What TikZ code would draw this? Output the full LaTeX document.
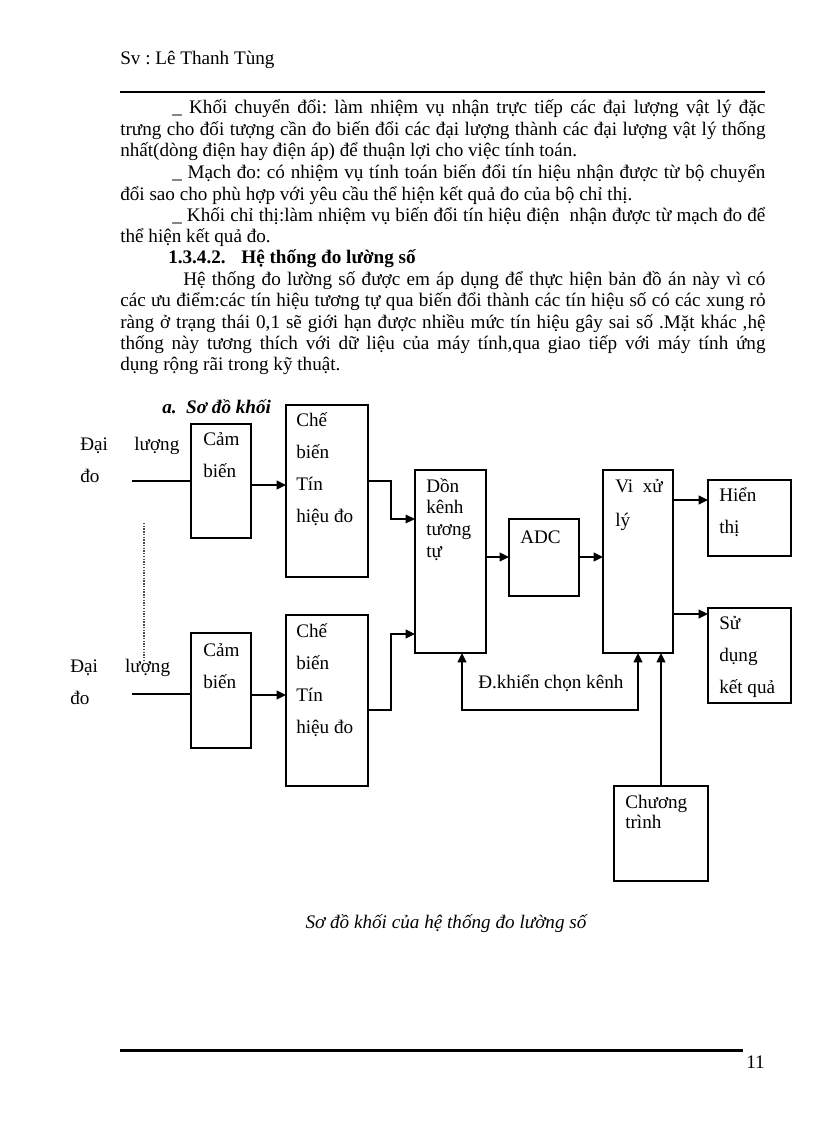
\documentclass[tikz,border=0pt]{standalone}
\usepackage{fontspec}
\setmainfont{Liberation Serif}
\frenchspacing
\usetikzlibrary{
    positioning,
    arrows.meta
}
\newcommand{\px}{0.0257cm}
\newcommand{\jline}[2]{\makebox[#1][s]{#2}}
\newcommand{\khung}[2][23.4pt]{\parbox[t]{3cm}{\baselineskip=#1\relax #2}}
\tikzset{
    >={Triangle[length=2.4mm,width=2.2mm]},
    khoi/.style 2 args={
        draw,
        line width=1.3pt,
        minimum width=#1*\px,
        minimum height=#2*\px,
        inner sep=0pt,
        outer sep=0pt
    },
    chu/.style={
        anchor=base west,
        inner sep=0pt,
        font=\fontsize{14}{15.6}\selectfont
    },
    mui/.style={->, line width=1.4pt},
    manh/.style={line width=0.75pt}
}

\begin{document}
\begin{tikzpicture}[
    x=\px,
    y=-\px
]
    \useasboundingbox (0,0) rectangle (816,1123);

    % Dau trang
    \node[chu] (sv) at (120,64) {Sv : Lê Thanh Tùng};
    \draw[line width=1.8pt] (120,92) -- (765,92);

    % Noi dung
    \node[chu] (t1) at (172,113) {\jline{15.24cm}{\_ Khối chuyển đổi: làm nhiệm vụ nhận trực tiếp các đại lượng vật lý đặc}};
    \node[chu] (t2) at (120,135) {\jline{16.58cm}{trưng cho đối tượng cần đo biến đổi các đại lượng thành các đại lượng vật lý thống}};
    \node[chu] (t3) at (120,156) {nhất(dòng điện hay điện áp) để thuận lợi cho việc tính toán.};
    \node[chu] (t4) at (172,178) {\jline{15.24cm}{\_ Mạch đo: có nhiệm vụ tính toán biến đổi tín hiệu nhận được từ bộ chuyển}};
    \node[chu] (t5) at (120,200) {đổi sao cho phù hợp với yêu cầu thể hiện kết quả đo của bộ chỉ thị.};
    \node[chu] (t6) at (172,221) {\jline{15.24cm}{\_ Khối chỉ thị:làm nhiệm vụ biến đổi tín hiệu điện~ nhận được từ mạch đo để}};
    \node[chu] (t7) at (120,242) {thể hiện kết quả đo.};
    \node[chu, font=\fontsize{14}{15.6}\selectfont\bfseries] (t8) at (168,263) {\makebox[1.88cm][l]{1.3.4.2.}Hệ thống đo lường số};
    \node[chu] (t9) at (183,285) {\jline{14.96cm}{Hệ thống đo lường số được em áp dụng để thực hiện bản đồ án này vì có}};
    \node[chu] (t10) at (120,306) {\jline{16.58cm}{các ưu điểm:các tín hiệu tương tự qua biến đổi thành các tín hiệu số có các xung rỏ}};
    \node[chu] (t11) at (120,328) {\jline{16.58cm}{ràng ở trạng thái 0,1 sẽ giới hạn được nhiều mức tín hiệu gây sai số .Mặt khác ,hệ}};
    \node[chu] (t12) at (120,349) {\jline{16.58cm}{thống này tương thích với dữ liệu của máy tính,qua giao tiếp với máy tính ứng}};
    \node[chu] (t13) at (120,370) {dụng rộng rãi trong kỹ thuật.};

    \node[chu, font=\fontsize{14}{15.6}\selectfont\bfseries\itshape] (muc) at (162,413) {a.\ \ Sơ đồ khối};

    % Cac khoi
    \node[khoi={60}{114}] (cb1)  at (221,481)   {};
    \node[khoi={82}{172}] (cbt1) at (327,491)   {};
    \node[khoi={60}{115}] (cb2)  at (221,690.5) {};
    \node[khoi={82}{171}] (cbt2) at (327,700.5) {};
    \node[khoi={71}{183}] (don)  at (450.5,561.5) {};
    \node[khoi={70}{77}]  (adc)  at (544,557.5) {};
    \node[khoi={70}{183}] (vxl)  at (638,561.5) {};
    \node[khoi={83}{76}]  (ht)   at (749.5,518) {};
    \node[khoi={83}{95}]  (sd)   at (749.5,655.5) {};
    \node[khoi={94}{95}]  (ct)   at (661,833.5) {};

    % Chu trong khoi
    \node[chu] (l-dl1)  at (80,450)  {\khung[24pt]{\makebox[1.39cm][l]{Đại}lượng\\đo}};
    \node[chu] (l-dl2)  at (70,672)  {\khung[24pt]{\makebox[1.41cm][l]{Đại}lượng\\đo}};
    \node[chu] (l-cb1)  at (203,445) {\khung{Cảm\\biến}};
    \node[chu] (l-cb2)  at (203,656) {\khung{Cảm\\biến}};
    \node[chu] (l-cbt1) at (296,426) {\khung{Chế\\biến\\Tín\\hiệu đo}};
    \node[chu] (l-cbt2) at (296,637) {\khung{Chế\\biến\\Tín\\hiệu đo}};
    \node[chu] (l-don)  at (426,492) {\khung[16pt]{Dồn\\kênh\\tương\\tự}};
    \node[chu] (l-adc)  at (520,543) {ADC};
    \node[chu] (l-vxl)  at (615,492) {\khung[25pt]{Vi\ \ xử\\lý}};
    \node[chu] (l-ht)   at (719,501) {\khung{Hiển\\thị}};
    \node[chu] (l-sd)   at (719,629) {\khung{Sử\\dụng\\kết quả}};
    \node[chu] (l-ct)   at (625,808) {\khung[15pt]{Chương\\trình}};
    \node[chu] (l-dk)   at (478,688) {Đ.khiển chọn kênh};

    % Tin hieu vao
    \coordinate (in1) at (132,481);
    \coordinate (in2) at (132,694);
    \draw[manh] (in1) -- (in1 -| cb1.west);
    \draw[manh] (in2) -- (in2 -| cb2.west);
    \coordinate (ch1) at (144,523);
    \coordinate (ch2) at (144,663);
    \draw[line width=1pt, densely dotted, black!70] (ch1) -- (ch2);

    % Ket noi
    \draw[mui] ([shift={(0,4)}]cb1.east) coordinate (a1) -- (a1 -| cbt1.west);
    \draw[mui] ([shift={(0,4.5)}]cb2.east) coordinate (a2) -- (a2 -| cbt2.west);
    \draw[mui, line width=1pt] ([shift={(0,-10)}]cbt1.east) -- ++(23,0) |- ([shift={(0,-42.5)}]don.west);
    \draw[mui] ([shift={(0,9.5)}]cbt2.east) -- ++(23,0) |- ([shift={(0,72.5)}]don.west);
    \draw[mui] ([shift={(0,-4.5)}]don.east) coordinate (a3) -- (a3 -| adc.west);
    \draw[mui] ([shift={(0,-0.5)}]adc.east) coordinate (a4) -- (a4 -| vxl.west);
    \draw[mui] ([shift={(0,-61.5)}]vxl.east) coordinate (a5) -- (a5 -| ht.west);
    \draw[mui] ([shift={(0,52.5)}]vxl.east) coordinate (a6) -- (a6 -| sd.west);
    \draw[<->, line width=1.4pt] ([shift={(11.5,0)}]don.south) -- ++(0,57) -| (vxl.south);
    \draw[mui] (ct.north) -- (ct.north |- vxl.south);

    % Chu thich
    \node[anchor=base, inner sep=0pt, font=\fontsize{14}{15.6}\selectfont\itshape] (cap) at (446,928) {Sơ đồ khối của hệ thống đo lường số};

    % Cuoi trang
    \draw[line width=2.2pt] (120,1050) -- (743,1050);
    \node[chu, anchor=base east] (so) at (765,1068) {11};
\end{tikzpicture}
\end{document}
